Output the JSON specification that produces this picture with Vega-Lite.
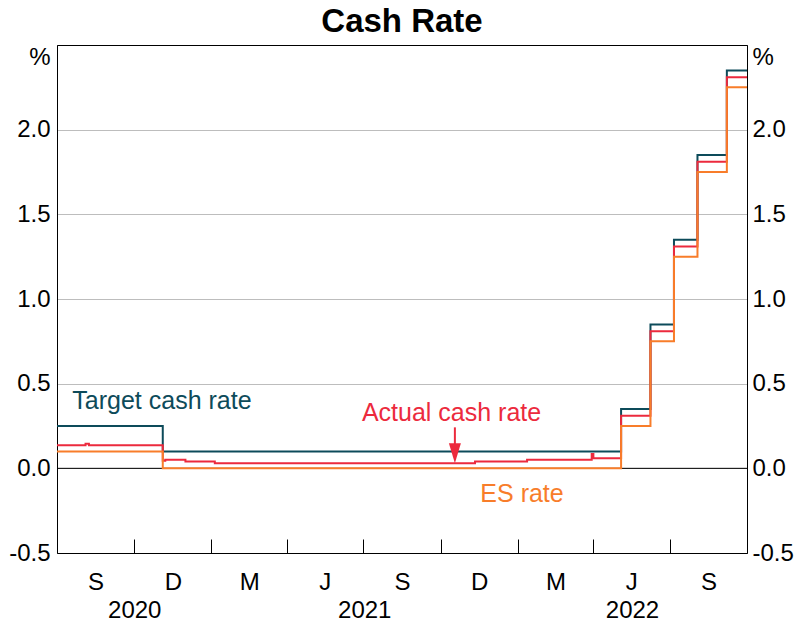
{
  "$schema": "https://vega.github.io/schema/vega-lite/v6.json",
  "width": 690,
  "height": 508,
  "autosize": "none",
  "padding": {"left": 57, "top": 45, "right": 48, "bottom": 70},
  "background": "white",
  "config": {
    "font": "Liberation Sans",
    "view": {"stroke": "black", "strokeWidth": 1},
    "axis": {"labelFont": "Liberation Sans", "labelColor": "black", "domainColor": "black", "tickColor": "black", "titleFont": "Liberation Sans", "titleColor": "black", "titleFontWeight": "normal"}
  },
  "title": {"text": "Cash Rate", "fontSize": 33, "fontWeight": "bold", "font": "Liberation Sans", "anchor": "middle", "frame": "group", "baseline": "alphabetic", "offset": 9, "dy": 29, "color": "black"},
  "datasets": {
    "rates": [
      {"series": "Target cash rate", "date": "2020-07-01", "value": 0.25},
      {"series": "Target cash rate", "date": "2020-11-04", "value": 0.10},
      {"series": "Target cash rate", "date": "2022-05-04", "value": 0.35},
      {"series": "Target cash rate", "date": "2022-06-08", "value": 0.85},
      {"series": "Target cash rate", "date": "2022-07-06", "value": 1.35},
      {"series": "Target cash rate", "date": "2022-08-03", "value": 1.85},
      {"series": "Target cash rate", "date": "2022-09-07", "value": 2.35},
      {"series": "Target cash rate", "date": "2022-10-01", "value": 2.35},
      {"series": "Actual cash rate", "date": "2020-07-01", "value": 0.137},
      {"series": "Actual cash rate", "date": "2020-08-04", "value": 0.145},
      {"series": "Actual cash rate", "date": "2020-08-08", "value": 0.137},
      {"series": "Actual cash rate", "date": "2020-11-04", "value": 0.045},
      {"series": "Actual cash rate", "date": "2020-11-07", "value": 0.05},
      {"series": "Actual cash rate", "date": "2020-12-01", "value": 0.04},
      {"series": "Actual cash rate", "date": "2021-01-05", "value": 0.03},
      {"series": "Actual cash rate", "date": "2021-11-11", "value": 0.04},
      {"series": "Actual cash rate", "date": "2022-01-12", "value": 0.05},
      {"series": "Actual cash rate", "date": "2022-03-30", "value": 0.085},
      {"series": "Actual cash rate", "date": "2022-04-01", "value": 0.06},
      {"series": "Actual cash rate", "date": "2022-05-04", "value": 0.31},
      {"series": "Actual cash rate", "date": "2022-06-08", "value": 0.81},
      {"series": "Actual cash rate", "date": "2022-07-06", "value": 1.31},
      {"series": "Actual cash rate", "date": "2022-08-03", "value": 1.81},
      {"series": "Actual cash rate", "date": "2022-09-07", "value": 2.31},
      {"series": "Actual cash rate", "date": "2022-10-01", "value": 2.31},
      {"series": "ES rate", "date": "2020-07-01", "value": 0.10},
      {"series": "ES rate", "date": "2020-11-04", "value": 0.0},
      {"series": "ES rate", "date": "2022-05-04", "value": 0.25},
      {"series": "ES rate", "date": "2022-06-08", "value": 0.75},
      {"series": "ES rate", "date": "2022-07-06", "value": 1.25},
      {"series": "ES rate", "date": "2022-08-03", "value": 1.75},
      {"series": "ES rate", "date": "2022-09-07", "value": 2.25},
      {"series": "ES rate", "date": "2022-10-01", "value": 2.25}
    ],
    "labels": [
      {"series": "Target cash rate", "label": "Target cash rate", "date": "2020-11-03", "value": 0.348},
      {"series": "Actual cash rate", "label": "Actual cash rate", "date": "2021-10-14", "value": 0.279},
      {"series": "ES rate", "label": "ES rate", "date": "2022-01-06", "value": -0.2}
    ],
    "arrow": [
      {"date": "2021-10-18", "top": 0.242, "bottom": 0.08, "head": 0.0885}
    ]
  },
  "resolve": {"scale": {"x": "shared", "y": "shared", "color": "shared"}, "axis": {"x": "independent", "y": "independent"}},
  "layer": [
    {
      "data": {"values": [{"v": 0}]},
      "mark": {"type": "rule", "color": "black", "strokeWidth": 1},
      "encoding": {
        "y": {"field": "v", "type": "quantitative", "scale": {"domain": [-0.5, 2.5], "nice": false, "zero": false}, "axis": null}
      }
    },
    {
      "data": {"name": "rates"},
      "mark": {"type": "line", "interpolate": "step-after", "strokeWidth": 2},
      "encoding": {
        "x": {
          "field": "date", "type": "temporal",
          "scale": {"type": "utc", "domain": [{"year": 2020, "month": 7, "date": 1, "utc": true}, {"year": 2022, "month": 10, "date": 1, "utc": true}]},
          "axis": {
            "orient": "bottom",
            "title": null, "labels": false, "grid": false, "domain": true, "ticks": true, "tickSize": -14, "tickWidth": 1,
            "values": [
              {"year": 2020, "month": 10, "date": 1, "utc": true},
              {"year": 2021, "month": 1, "date": 1, "utc": true},
              {"year": 2021, "month": 4, "date": 1, "utc": true},
              {"year": 2021, "month": 7, "date": 1, "utc": true},
              {"year": 2021, "month": 10, "date": 1, "utc": true},
              {"year": 2022, "month": 1, "date": 1, "utc": true},
              {"year": 2022, "month": 4, "date": 1, "utc": true},
              {"year": 2022, "month": 7, "date": 1, "utc": true}
            ]
          }
        },
        "y": {
          "field": "value", "type": "quantitative",
          "scale": {"domain": [-0.5, 2.5], "nice": false, "zero": false},
          "axis": {
            "orient": "left", "values": [-0.5, 0, 0.5, 1, 1.5, 2],
            "labelExpr": "(datum.value < 0 ? '-' : '') + format(abs(datum.value), '.1f')",
            "grid": true, "gridColor": "#bdbdbd", "gridWidth": 1,
            "ticks": false, "tickSize": 0, "domain": true,
            "labelFontSize": 24, "labelPadding": 7,
            "title": "%", "titleFontSize": 24, "titleAngle": 0, "titleAlign": "right", "titleBaseline": "middle", "titleX": -7, "titleY": 12
          }
        },
        "color": {
          "field": "series", "type": "nominal",
          "scale": {"domain": ["Target cash rate", "Actual cash rate", "ES rate"], "range": ["#0d4b5a", "#ec2a3d", "#f87d2a"]},
          "legend": null
        }
      }
    },
    {
      "data": {"name": "labels"},
      "mark": {"type": "text", "fontSize": 25, "align": "center", "baseline": "alphabetic", "font": "Liberation Sans"},
      "encoding": {
        "x": {
          "field": "date", "type": "temporal",
          "axis": {
            "orient": "bottom",
            "title": null, "grid": false, "domain": false, "ticks": false, "tickSize": 0,
            "labelFontSize": 24, "labelPadding": 17, "labelOverlap": false, "labelFlush": false,
            "values": [
              {"year": 2020, "month": 8, "date": 16, "utc": true},
              {"year": 2020, "month": 11, "date": 16, "utc": true},
              {"year": 2021, "month": 2, "date": 15, "utc": true},
              {"year": 2021, "month": 5, "date": 16, "utc": true},
              {"year": 2021, "month": 8, "date": 16, "utc": true},
              {"year": 2021, "month": 11, "date": 16, "utc": true},
              {"year": 2022, "month": 2, "date": 15, "utc": true},
              {"year": 2022, "month": 5, "date": 16, "utc": true},
              {"year": 2022, "month": 8, "date": 16, "utc": true}
            ],
            "labelExpr": "utcmonth(datum.value) == 7 ? 'S' : utcmonth(datum.value) == 10 ? 'D' : utcmonth(datum.value) == 1 ? 'M' : 'J'"
          }
        },
        "y": {
          "field": "value", "type": "quantitative",
          "axis": {
            "orient": "right", "values": [-0.5, 0, 0.5, 1, 1.5, 2],
            "labelExpr": "(datum.value < 0 ? '-' : '') + format(abs(datum.value), '.1f')",
            "grid": false, "ticks": false, "tickSize": 0, "domain": true,
            "labelFontSize": 24, "labelPadding": 5,
            "title": "%", "titleFontSize": 24, "titleAngle": 0, "titleAlign": "left", "titleBaseline": "middle", "titleX": 5, "titleY": 12
          }
        },
        "text": {"field": "label"},
        "color": {"field": "series", "type": "nominal", "legend": null}
      }
    },
    {
      "data": {"name": "arrow"},
      "mark": {"type": "rule", "color": "#ec2a3d", "strokeWidth": 2},
      "encoding": {
        "x": {
          "field": "date", "type": "temporal",
          "axis": {
            "orient": "bottom",
            "title": null, "grid": false, "domain": false, "ticks": false, "tickSize": 0,
            "labelFontSize": 24, "labelPadding": 45, "labelOverlap": false, "labelFlush": false,
            "values": [
              {"year": 2020, "month": 10, "date": 1, "utc": true},
              {"year": 2021, "month": 7, "date": 2, "utc": true},
              {"year": 2022, "month": 5, "date": 17, "utc": true}
            ],
            "labelExpr": "utcFormat(datum.value, '%Y')"
          }
        },
        "y": {"field": "top", "type": "quantitative", "axis": null},
        "y2": {"field": "bottom"}
      }
    },
    {
      "data": {"name": "arrow"},
      "mark": {"type": "point", "shape": "M-0.6,-1L0.6,-1L0,1Z", "size": 400, "filled": true, "color": "#ec2a3d", "opacity": 1, "strokeWidth": 0},
      "encoding": {
        "x": {"field": "date", "type": "temporal", "axis": null},
        "y": {"field": "head", "type": "quantitative", "axis": null}
      }
    }
  ]
}
